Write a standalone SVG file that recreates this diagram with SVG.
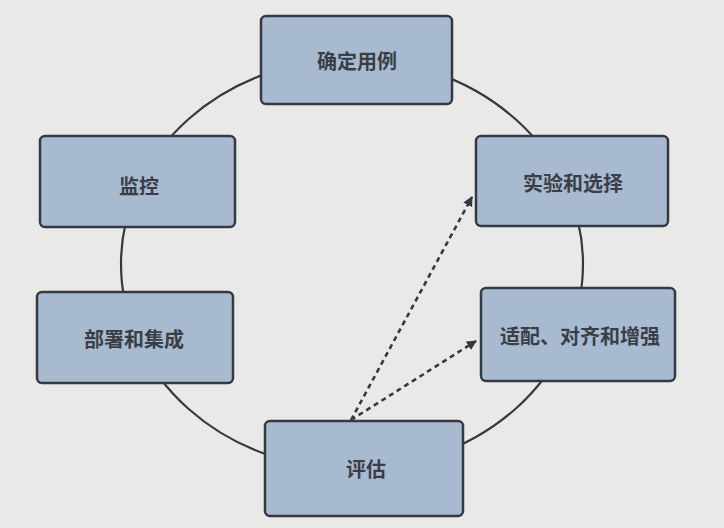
<svg xmlns="http://www.w3.org/2000/svg" width="724" height="528" viewBox="0 0 724 528">
<defs>
<style>
.box{fill:#a8bad0;stroke:#343a44;stroke-width:2.5}
.lbl{font-family:"Noto Sans CJK SC","Noto Sans",sans-serif;font-size:20px;font-weight:700;fill:#3a3f47;text-anchor:middle;dominant-baseline:central}
.cyc{fill:none;stroke:#343a44;stroke-width:2.2}
.dash{fill:none;stroke:#343a44;stroke-width:2.6;stroke-dasharray:5 4}
</style>
<marker id="ah" markerWidth="12" markerHeight="12" refX="9" refY="5.5" orient="auto" markerUnits="userSpaceOnUse">
<path d="M0,0.5 L10,5.5 L0,10.5 Z" fill="#343a44"/>
</marker>
</defs>
<rect x="0" y="0" width="724" height="528" fill="#e9e9e7"/>
<g id="connectors">
<ellipse class="cyc" cx="352" cy="264" rx="231" ry="205"/>
<line class="dash" x1="351" y1="420" x2="472" y2="197" marker-end="url(#ah)"/>
<line class="dash" x1="351" y1="420" x2="476" y2="341" marker-end="url(#ah)"/>
</g>
<g id="n1"><rect class="box" x="261" y="16" width="191" height="88" rx="5"/><text class="lbl" x="357" y="60">确定用例</text></g>
<g id="n2"><rect class="box" x="476" y="136" width="192" height="90" rx="5"/><text class="lbl" x="573" y="182">实验和选择</text></g>
<g id="n3"><rect class="box" x="481" y="288" width="194" height="93" rx="5"/><text class="lbl" x="580" y="335">适配、对齐和增强</text></g>
<g id="n4"><rect class="box" x="265" y="421" width="198" height="95" rx="5"/><text class="lbl" x="366" y="468">评估</text></g>
<g id="n5"><rect class="box" x="37" y="292" width="196" height="91" rx="5"/><text class="lbl" x="134" y="338">部署和集成</text></g>
<g id="n6"><rect class="box" x="40" y="136" width="195" height="91" rx="5"/><text class="lbl" x="139" y="185">监控</text></g>
</svg>
